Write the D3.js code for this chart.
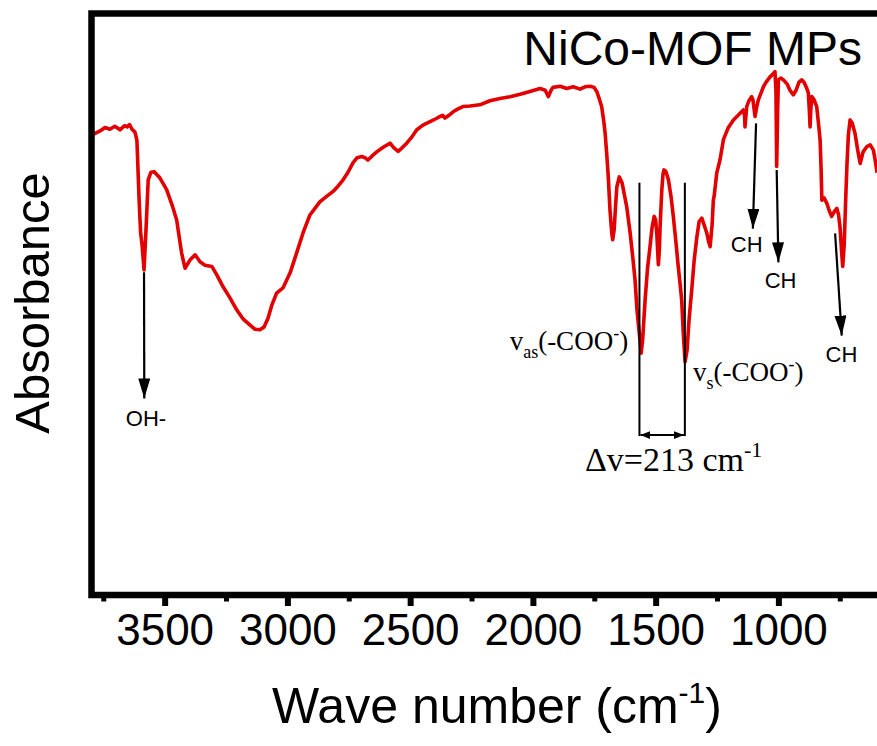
<!DOCTYPE html>
<html>
<head>
<meta charset="utf-8">
<script src="https://cdn.jsdelivr.net/npm/d3@7"></script>
<style>
  body { margin: 0; background: #fff; }
  svg { display: block; }
</style>
</head>
<body>
<div id="chart"></div>
<script>
// FTIR spectrum, values (arbitrary absorbance units, 0-100)
const wavenumber = [
  3799, 3765, 3745, 3725, 3705, 3684, 3665, 3655, 3645, 3635, 3623, 3615, 3606, 3600, 3594, 3586,
  3578, 3569, 3558, 3545, 3521, 3494, 3472, 3453, 3433, 3419, 3399, 3378, 3358, 3338, 3310,
  3289, 3264, 3236, 3208, 3183, 3154, 3134, 3114, 3097, 3081, 3065, 3046, 3020, 2991, 2967,
  2938, 2911, 2870, 2841, 2816, 2796, 2775, 2755, 2735, 2718, 2699, 2686, 2674, 2657, 2638,
  2612, 2584, 2568, 2551, 2535, 2516, 2498, 2475, 2450, 2421, 2397, 2380, 2370, 2360, 2344,
  2327, 2307, 2287, 2258, 2218, 2177, 2136, 2095, 2054, 2014, 1973, 1952, 1939, 1928, 1920,
  1891, 1864, 1838, 1810, 1790, 1769, 1753, 1742, 1733, 1722, 1714, 1708, 1701, 1695, 1688,
  1681, 1677, 1671, 1665, 1660, 1650, 1639, 1620, 1606, 1594, 1586, 1578, 1568, 1561, 1555,
  1545, 1535, 1525, 1517, 1508, 1502, 1497, 1491, 1487, 1484, 1477, 1472, 1468, 1460, 1450,
  1439, 1430, 1419, 1410, 1403, 1396, 1389, 1382, 1374, 1366, 1355, 1345, 1334, 1325, 1314,
  1305, 1294, 1286, 1280, 1272, 1267, 1264, 1253, 1240, 1226, 1207, 1185, 1166, 1145, 1140,
  1138, 1135, 1131, 1122, 1111, 1106, 1097, 1091, 1084, 1073, 1063, 1052, 1036, 1024, 1016,
  1012, 1009, 1005, 1002, 991, 982, 967, 955, 941, 930, 918, 907, 898, 887, 880,
  876, 873, 870, 866, 857, 846, 838, 832, 828, 825, 816, 805, 796, 785, 775,
  764, 757, 751, 745, 740, 734, 728, 723, 717, 710, 702, 690, 679, 669, 657,
  642, 628, 615, 608, 600
];
const absorbance = [
  79.1, 79.8, 80.4, 80.1, 80.6, 80.0, 80.7, 80.5, 80.9, 80.1, 79.6, 78.2, 67.9, 62.3, 60.2, 55.9,
  62.8, 71.4, 72.7, 72.8, 71.7, 69.7, 67.1, 64.5, 58.8, 56.2, 57.6, 58.5, 57.3, 56.7, 56.5,
  55.0, 53.0, 51.1, 49.0, 47.5, 46.4, 45.7, 45.6, 46.1, 47.6, 49.9, 51.9, 52.8, 55.4, 58.5,
  62.3, 65.3, 67.6, 68.6, 69.4, 70.3, 71.4, 72.7, 74.3, 75.2, 75.4, 75.2, 74.8, 75.5, 76.2,
  77.0, 77.7, 76.9, 76.3, 76.9, 77.7, 78.6, 80.0, 80.8, 81.4, 81.9, 82.3, 82.5, 82.0, 82.5,
  83.1, 83.6, 84.0, 84.1, 84.3, 85.0, 85.4, 85.7, 86.1, 86.6, 87.1, 86.8, 85.7, 86.8, 87.3,
  87.5, 87.1, 87.4, 87.0, 87.4, 87.5, 87.3, 86.6, 85.5, 84.0, 81.7, 79.5, 75.7, 71.9, 66.2,
  62.3, 61.1, 62.8, 67.1, 70.2, 71.9, 70.9, 66.8, 62.3, 57.6, 54.2, 49.0, 44.7, 41.6, 43.9,
  50.7, 56.2, 59.9, 63.1, 65.1, 64.5, 61.9, 56.8, 59.3, 63.3, 69.6, 72.4, 73.1, 72.8, 71.4,
  68.4, 65.1, 60.5, 56.5, 53.7, 50.7, 44.7, 40.1, 42.1, 47.3, 52.5, 57.6, 61.6, 64.2, 64.8,
  63.7, 62.3, 60.7, 59.9, 63.7, 67.9, 68.5, 72.6, 74.8, 78.3, 80.3, 81.7, 82.5, 83.4, 82.5,
  80.5, 82.0, 84.0, 85.0, 85.7, 85.2, 82.3, 83.8, 85.1, 86.3, 87.4, 88.2, 89.1, 89.6, 90.0,
  86.8, 73.7, 83.4, 88.6, 88.9, 88.6, 87.9, 86.8, 86.0, 86.8, 88.2, 88.6, 88.2, 87.2, 86.3,
  83.4, 80.5, 83.4, 85.7, 85.2, 84.0, 80.8, 78.2, 73.1, 67.9, 68.3, 67.4, 66.2, 65.1, 65.9,
  66.5, 65.4, 63.3, 59.3, 56.5, 60.2, 67.9, 73.7, 79.1, 81.7, 81.2, 79.4, 76.5, 74.2, 76.2,
  77.1, 77.4, 76.5, 74.8, 72.6
];

const majorTicks = [3500, 3000, 2500, 2000, 1500, 1000];
const minorTicks = [3750, 3250, 2750, 2250, 1750, 1250, 750];

const chartTitle = 'NiCo-MOF MPs';
const xTitle = 'Wave number (cm';
const yTitle = 'Absorbance';

// arrows pointing at bands: [wn from, value from, wn to, value to]
const bandArrows = [
  [3586, 55.5, 3585, 33.8],
  [1093, 81.1, 1106, 63.0],
  [1009, 73.1, 1002, 57.2],
  [771, 62.2, 744, 44.6]
];
const bandLabels = [
  { text: 'OH-', wn: 3578, v: 29.0 },
  { text: 'CH', wn: 1131, v: 59.0 },
  { text: 'CH', wn: 993, v: 52.8 },
  { text: 'CH', wn: 745, v: 40.1 }
];
// carboxylate splitting
const cooPeaks = [1568, 1383];
const cooTop = 70.9;
const cooBottom = 27.5;

const width = 877;
const height = 746;

const svg = d3.select('#chart').append('svg')
  .attr('width', width)
  .attr('height', height);

const xScale = d3.scaleLinear().domain([3800, 580]).range([91.5, 882]);
const yScale = d3.scaleLinear().domain([0, 100]).range([595, 13.5]);

const defs = svg.append('defs');
defs.append('marker')
  .attr('id', 'head')
  .attr('markerUnits', 'userSpaceOnUse')
  .attr('viewBox', '0 0 20 12')
  .attr('refX', 20).attr('refY', 6)
  .attr('markerWidth', 20).attr('markerHeight', 12)
  .attr('orient', 'auto')
  .append('path').attr('d', 'M0,0 L20,6 L0,12 Z').attr('fill', '#000');
defs.append('marker')
  .attr('id', 'small')
  .attr('markerUnits', 'userSpaceOnUse')
  .attr('viewBox', '0 0 10 8')
  .attr('refX', 10).attr('refY', 4)
  .attr('markerWidth', 10).attr('markerHeight', 8)
  .attr('orient', 'auto-start-reverse')
  .append('path').attr('d', 'M0,0 L10,4 L0,8 Z').attr('fill', '#000');

// spectrum
const line = d3.line()
  .x((d, i) => xScale(wavenumber[i]))
  .y((d) => yScale(d));

svg.append('path')
  .datum(absorbance)
  .attr('fill', 'none')
  .attr('stroke', '#e30000')
  .attr('stroke-width', 3.6)
  .attr('stroke-linejoin', 'round')
  .attr('d', line);

// x ticks
const xAxis = svg.append('g').attr('transform', `translate(0, ${yScale(0)})`);
xAxis.selectAll('.major')
  .data(majorTicks)
  .join('line')
  .attr('x1', (d) => xScale(d)).attr('x2', (d) => xScale(d))
  .attr('y1', 0).attr('y2', 11)
  .attr('stroke', '#000').attr('stroke-width', 6);
xAxis.selectAll('.minor')
  .data(minorTicks)
  .join('line')
  .attr('x1', (d) => xScale(d)).attr('x2', (d) => xScale(d))
  .attr('y1', 0).attr('y2', 6.5)
  .attr('stroke', '#000').attr('stroke-width', 5);
xAxis.selectAll('text')
  .data(majorTicks)
  .join('text')
  .attr('x', (d) => xScale(d))
  .attr('y', 50)
  .attr('text-anchor', 'middle')
  .attr('font-family', '"Liberation Sans", Arial, sans-serif')
  .attr('font-size', 44)
  .text((d) => d);

// frame
svg.append('rect')
  .attr('x', xScale(3800)).attr('y', yScale(100))
  .attr('width', xScale(580) - xScale(3800))
  .attr('height', yScale(0) - yScale(100))
  .attr('fill', 'none')
  .attr('stroke', '#000')
  .attr('stroke-width', 6.5);

// titles
svg.append('text')
  .attr('x', 862).attr('y', 65)
  .attr('text-anchor', 'end')
  .attr('font-family', '"Liberation Sans", Arial, sans-serif')
  .attr('font-size', 48)
  .text(chartTitle);

const xt = svg.append('text')
  .attr('x', 497).attr('y', 723)
  .attr('text-anchor', 'middle')
  .attr('font-family', '"Liberation Sans", Arial, sans-serif')
  .attr('font-size', 50);
xt.append('tspan').text(xTitle);
xt.append('tspan').attr('font-size', 30).attr('dy', -20).text('-1');
xt.append('tspan').attr('dy', 20).text(')');

svg.append('text')
  .attr('transform', 'translate(49, 303) rotate(-90)')
  .attr('text-anchor', 'middle')
  .attr('font-family', '"Liberation Sans", Arial, sans-serif')
  .attr('font-size', 49)
  .text(yTitle);

// band arrows
svg.append('g').selectAll('line')
  .data(bandArrows)
  .join('line')
  .attr('x1', (d) => xScale(d[0])).attr('y1', (d) => yScale(d[1]))
  .attr('x2', (d) => xScale(d[2])).attr('y2', (d) => yScale(d[3]))
  .attr('stroke', '#000').attr('stroke-width', 2.2)
  .attr('marker-end', 'url(#head)');

svg.append('g').selectAll('text')
  .data(bandLabels)
  .join('text')
  .attr('x', (d) => xScale(d.wn)).attr('y', (d) => yScale(d.v))
  .attr('text-anchor', 'middle')
  .attr('font-family', '"Liberation Sans", Arial, sans-serif')
  .attr('font-size', 22)
  .text((d) => d.text);

// COO- splitting
const coo = svg.append('g');
coo.selectAll('line')
  .data(cooPeaks)
  .join('line')
  .attr('x1', (d) => xScale(d)).attr('x2', (d) => xScale(d))
  .attr('y1', yScale(cooTop)).attr('y2', yScale(cooBottom) + 1)
  .attr('stroke', '#000').attr('stroke-width', 2);
coo.append('line')
  .attr('x1', xScale(cooPeaks[0]) + 1).attr('x2', xScale(cooPeaks[1]) - 1)
  .attr('y1', yScale(cooBottom)).attr('y2', yScale(cooBottom))
  .attr('stroke', '#000').attr('stroke-width', 2)
  .attr('marker-start', 'url(#small)')
  .attr('marker-end', 'url(#small)');

const serif = '"Liberation Serif", "Times New Roman", serif';
const vas = svg.append('text')
  .attr('x', xScale(1614)).attr('y', yScale(42.1))
  .attr('text-anchor', 'end')
  .attr('font-family', serif).attr('font-size', 27);
vas.append('tspan').text('v');
vas.append('tspan').attr('font-size', 18).attr('dy', 8).text('as');
vas.append('tspan').attr('dy', -8).text('(-COO');
vas.append('tspan').attr('font-size', 18).attr('dy', -11).text('-');
vas.append('tspan').attr('dy', 11).text(')');

const vs = svg.append('text')
  .attr('x', xScale(1350)).attr('y', yScale(36.8))
  .attr('font-family', serif).attr('font-size', 27);
vs.append('tspan').text('v');
vs.append('tspan').attr('font-size', 18).attr('dy', 8).text('s');
vs.append('tspan').attr('dy', -8).text('(-COO');
vs.append('tspan').attr('font-size', 18).attr('dy', -11).text('-');
vs.append('tspan').attr('dy', 11).text(')');

const dv = svg.append('text')
  .attr('x', xScale(1790)).attr('y', yScale(21.3))
  .attr('font-family', serif).attr('font-size', 34);
dv.append('tspan').text('\u0394v=213 cm');
dv.append('tspan').attr('font-size', 22).attr('dy', -14).text('-1');
</script>
</body>
</html>
